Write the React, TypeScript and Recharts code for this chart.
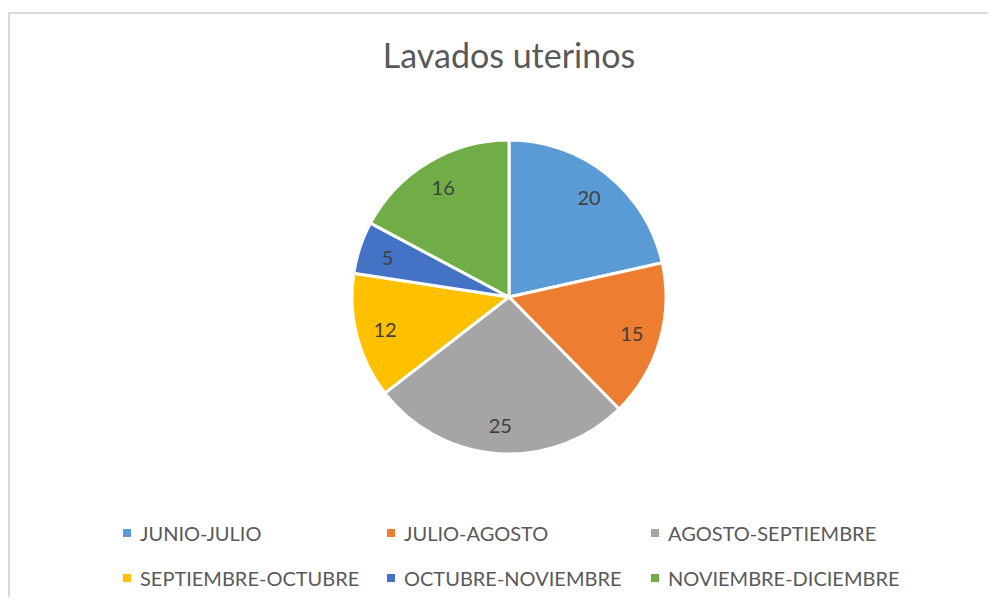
import { PieChart, Pie, Cell, Legend } from 'recharts';

const periods = [
  'JUNIO-JULIO',
  'JULIO-AGOSTO',
  'AGOSTO-SEPTIEMBRE',
  'SEPTIEMBRE-OCTUBRE',
  'OCTUBRE-NOVIEMBRE',
  'NOVIEMBRE-DICIEMBRE',
];
const lavados = [20, 15, 25, 12, 5, 16];
const colors = ['#5B9BD5', '#ED7D31', '#A5A5A5', '#FFC000', '#4472C4', '#70AD47'];

const data = periods.map((name, i) => ({ name, value: lavados[i] }));

const FONT = 'Lato, "Open Sans", sans-serif';
const RADIAN = Math.PI / 180;

function renderLabel(props: any) {
  const { cx, cy, midAngle, value } = props;
  const r = 128;
  const x = cx + r * Math.cos(-midAngle * RADIAN);
  const y = cy + r * Math.sin(-midAngle * RADIAN);
  return (
    <text
      x={x}
      y={y}
      fill="#404040"
      fontSize={20}
      fontFamily={FONT}
      textAnchor="middle"
      dominantBaseline="central"
    >
      {value}
    </text>
  );
}

function LegendBox() {
  return (
    <div style={{ display: 'flex', flexWrap: 'wrap', paddingLeft: 113, width: 792 }}>
      {periods.map((p, i) => (
        <div
          key={p}
          style={{ width: 264, height: 45, display: 'flex', alignItems: 'center' }}
        >
          <div style={{ width: 8, height: 8, background: colors[i], marginRight: 9 }} />
          <span style={{ fontSize: 20, color: '#595959', fontFamily: FONT }}>{p}</span>
        </div>
      ))}
    </div>
  );
}

export default function App() {
  return (
    <div
      style={{
        marginTop: 4,
        width: 986,
        height: 583,
        borderTop: '2px solid #d9d9d9',
        borderLeft: '2px solid #d9d9d9',
        position: 'relative',
        background: '#fff',
      }}
    >
      <div
        style={{
          position: 'absolute',
          top: 20,
          left: 0,
          width: 998,
          textAlign: 'center',
          fontSize: 34,
          color: '#595959',
          fontFamily: FONT,
          zIndex: 1,
        }}
      >
        Lavados uterinos
      </div>
      <PieChart width={986} height={583} margin={{ top: 0, right: 0, bottom: 0, left: 0 }}>
        <Pie
          data={data}
          dataKey="value"
          nameKey="name"
          cx={499}
          cy={283}
          outerRadius={157}
          startAngle={90}
          endAngle={-270}
          stroke="#fff"
          strokeWidth={3}
          label={renderLabel}
          labelLine={false}
          isAnimationActive={false}
        >
          {data.map((d, i) => (
            <Cell key={d.name} fill={colors[i]} />
          ))}
        </Pie>
        <Legend
          content={() => <LegendBox />}
          wrapperStyle={{ left: 0, top: 496, width: 986 }}
        />
      </PieChart>
    </div>
  );
}
